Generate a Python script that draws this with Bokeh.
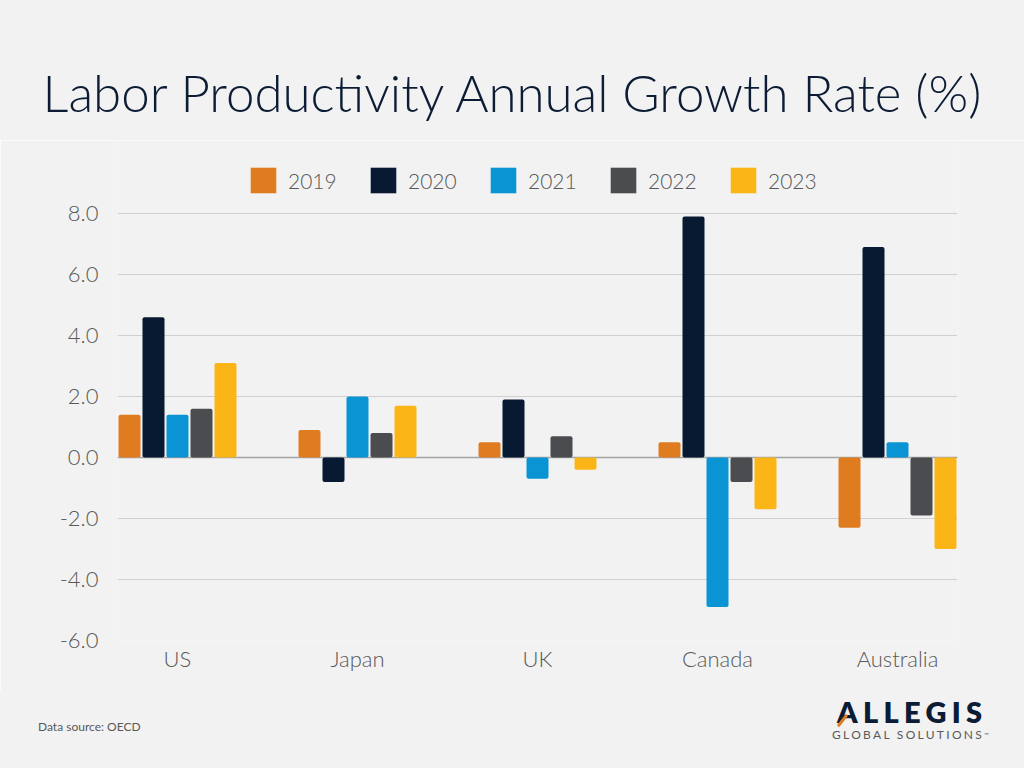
from bokeh.plotting import figure
from bokeh.models import (Legend, LegendItem, Span, FixedTicker, Div,
                          NumeralTickFormatter, Range1d)
from bokeh.layouts import column
from bokeh.embed import file_html
from bokeh.resources import INLINE

# ---- data ----
countries = ["US", "Japan", "UK", "Canada", "Australia"]
years = ["2019", "2020", "2021", "2022", "2023"]
v2019 = [1.4, 0.9, 0.5, 0.5, -2.3]
v2020 = [4.6, -0.8, 1.9, 7.9, 6.9]
v2021 = [1.4, 2.0, -0.7, -4.9, 0.5]
v2022 = [1.6, 0.8, 0.7, -0.8, -1.9]
v2023 = [3.1, 1.7, -0.4, -1.7, -3.0]
y_ticks = [-6, -4, -2, 0, 2, 4, 6, 8]
title_text = "Labor Productivity Annual Growth Rate (%)"
source_text = "Data source: OECD"

series = [v2019, v2020, v2021, v2022, v2023]
colors = ["#E07C20", "#071A32", "#0A94D3", "#4B4C50", "#FCB516"]

BG = "#F2F2F2"
TXT = "#595959"
NAVY = "#0C1C35"
FONT = "Lato Light"

W = 1024
TITLE_H = 140
PLOT_H = 550
FOOT_H = 768 - TITLE_H - PLOT_H

title_div = Div(
    text=f'<div style="font-family:Lato;font-weight:300;font-size:51px;'
         f'line-height:51px;color:{NAVY};text-align:center;width:{W}px;'
         f'padding-top:67px;white-space:nowrap">{title_text}</div>',
    width=W, height=TITLE_H, margin=0,
    styles={"background-color": BG})

# frame spans from the top of the figure down to the -6 gridline;
# the empty upper part holds the legend
p = figure(width=W, height=PLOT_H, output_backend="svg", toolbar_location=None,
           x_range=Range1d(-1/3, 4 + 1/3), y_range=Range1d(-6, 10.393),
           min_border_left=117, min_border_right=67,
           min_border_top=0, min_border_bottom=50, margin=0)
p.title.visible = False
p.background_fill_color = BG
p.border_fill_color = BG
p.outline_line_color = None

slot = 24 / 180
bw = 22 / 180
items = []
for j, (vals, yr, c) in enumerate(zip(series, years, colors)):
    xs = [i + (j - 2) * slot for i in range(len(countries))]
    r = p.vbar(x=xs, top=vals, bottom=0, width=bw, fill_color=c, line_color=None,
               border_radius=2)
    items.append(LegendItem(label=yr, renderers=[r]))

# axes
p.xaxis.ticker = FixedTicker(ticks=list(range(len(countries))))
p.xaxis.major_label_overrides = {i: c for i, c in enumerate(countries)}
p.yaxis.ticker = FixedTicker(ticks=y_ticks)
p.yaxis.formatter = NumeralTickFormatter(format="0.0")
for ax in (p.xaxis[0], p.yaxis[0]):
    ax.axis_line_color = None
    ax.major_tick_line_color = None
    ax.minor_tick_line_color = None
    ax.major_label_text_font = FONT
    ax.major_label_text_font_size = "22px"
    ax.major_label_text_color = TXT
p.yaxis.major_label_standoff = 13
p.xaxis.major_label_standoff = -2

p.xgrid.grid_line_color = None
p.ygrid.grid_line_color = "#D0D0D0"
p.ygrid.grid_line_width = 1
p.ygrid.ticker = FixedTicker(ticks=y_ticks)

zero = Span(location=0, dimension="width", line_color="#A4A4A4", line_width=1.5,
            level="underlay")
p.add_layout(zero)

legend = Legend(items=items, orientation="horizontal", location=(130, 444),
                glyph_width=32, glyph_height=32, label_standoff=9,
                label_width=50, spacing=29, padding=0, margin=0,
                border_line_color=None, background_fill_alpha=0,
                label_text_font=FONT, label_text_font_size="21px",
                label_text_color=TXT, label_text_baseline="middle")
p.add_layout(legend)

foot_html = (
    f'<div style="position:relative;width:{W}px;height:{FOOT_H}px;">'
    f'<div style="position:absolute;left:38px;top:30px;font-family:Lato;'
    f'font-size:12px;line-height:14px;color:{TXT};white-space:nowrap">'
    f'{source_text}</div>'
    f'<div style="position:absolute;left:837px;top:7px;font-family:Lato;'
    f'font-weight:800;font-size:29px;line-height:29px;letter-spacing:5.3px;'
    f'color:{NAVY};white-space:nowrap">ALLEGIS</div>'
    f'<div style="position:absolute;left:841px;top:23px;width:3px;height:15px;'
    f'background:#E07C20;border-radius:2px;transform:rotate(38deg);"></div>'
    f'<div style="position:absolute;left:832px;top:39px;font-family:Lato;'
    f'font-size:12px;line-height:12px;letter-spacing:2.3px;color:{TXT};'
    f'white-space:nowrap">GLOBAL SOLUTIONS<span style="font-size:6px;'
    f'vertical-align:top;letter-spacing:0">™</span></div>'
    f'</div>')
foot_div = Div(text=foot_html, width=W, height=FOOT_H, margin=0,
               styles={"background-color": BG})

layout = column(title_div, p, foot_div, spacing=0)

open("out.html", "w").write(file_html(layout, INLINE))
